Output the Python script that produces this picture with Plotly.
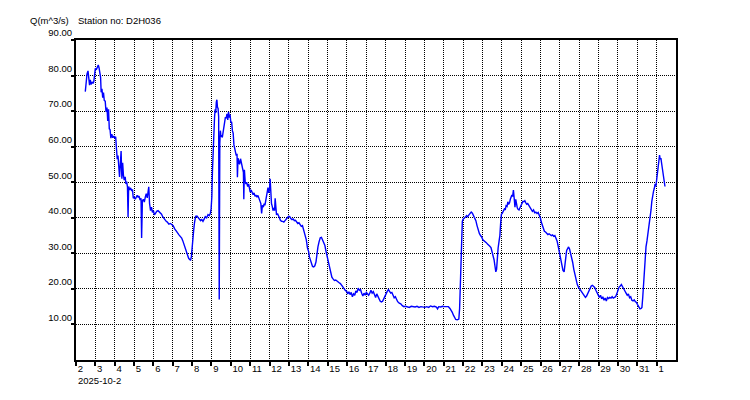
import pandas as pd
import plotly.graph_objects as go

# ---- data (days since 2025-10-02 00:00, discharge m^3/s) ----
start_date = "2025-10-02"
days = [
    0.48, 0.52, 0.57, 0.62, 0.66, 0.70, 0.74, 0.78, 0.83, 0.88, 0.92, 0.96, 1.00, 1.05, 1.10, 1.15, 1.19, 1.23, 1.27, 1.30,
    1.34, 1.38, 1.42, 1.46, 1.51, 1.55, 1.60, 1.64, 1.68, 1.72, 1.76, 1.80, 1.85, 1.90, 1.95, 2.00, 2.05, 2.09, 2.13, 2.17,
    2.21, 2.25, 2.29, 2.33, 2.37, 2.41, 2.45, 2.49, 2.54, 2.58, 2.62, 2.66, 2.69, 2.72, 2.77, 2.82, 2.87, 2.92, 2.96, 3.01,
    3.06, 3.11, 3.16, 3.21, 3.26, 3.31, 3.36, 3.39, 3.43, 3.48, 3.53, 3.58, 3.63, 3.68, 3.72, 3.76, 3.80, 3.85, 3.90, 3.95,
    4.00, 4.05, 4.10, 4.17, 4.24, 4.30, 4.36, 4.42, 4.48, 4.54, 4.60, 4.66, 4.72, 4.80, 4.88, 4.95, 5.02, 5.10, 5.17, 5.24,
    5.32, 5.40, 5.46, 5.52, 5.58, 5.64, 5.70, 5.76, 5.82, 5.88, 5.92, 5.96, 6.00, 6.04, 6.08, 6.12, 6.18, 6.25, 6.32, 6.38,
    6.44, 6.50, 6.56, 6.62, 6.68, 6.75, 6.82, 6.88, 6.94, 6.98, 7.02, 7.05, 7.08, 7.12, 7.16, 7.19, 7.22, 7.25, 7.28, 7.31,
    7.34, 7.37, 7.40, 7.43, 7.46, 7.49, 7.52, 7.56, 7.60, 7.64, 7.68, 7.72, 7.76, 7.80, 7.84, 7.88, 7.92, 7.96, 8.00, 8.04,
    8.08, 8.12, 8.16, 8.20, 8.24, 8.28, 8.32, 8.34, 8.37, 8.41, 8.45, 8.50, 8.55, 8.60, 8.65, 8.67, 8.70, 8.74, 8.78, 8.82,
    8.87, 8.92, 8.96, 9.00, 9.05, 9.10, 9.15, 9.20, 9.25, 9.30, 9.35, 9.40, 9.45, 9.50, 9.55, 9.59, 9.63, 9.68, 9.72, 9.76,
    9.80, 9.85, 9.88, 9.92, 9.96, 10.00, 10.03, 10.06, 10.10, 10.14, 10.18, 10.22, 10.26, 10.29, 10.32, 10.36, 10.41, 10.46, 10.51, 10.56,
    10.62, 10.68, 10.74, 10.80, 10.86, 10.92, 10.98, 11.04, 11.10, 11.16, 11.22, 11.28, 11.34, 11.40, 11.46, 11.52, 11.58, 11.64, 11.70, 11.76,
    11.80, 11.85, 11.90, 11.96, 12.02, 12.06, 12.10, 12.16, 12.22, 12.28, 12.34, 12.40, 12.45, 12.50, 12.56, 12.62, 12.68, 12.74, 12.80, 12.86,
    12.92, 12.98, 13.04, 13.10, 13.16, 13.22, 13.28, 13.35, 13.42, 13.50, 13.58, 13.66, 13.74, 13.80, 13.86, 13.92, 13.98, 14.04, 14.10, 14.16,
    14.22, 14.28, 14.34, 14.40, 14.46, 14.52, 14.58, 14.64, 14.70, 14.76, 14.82, 14.88, 14.94, 15.00, 15.06, 15.12, 15.18, 15.24, 15.30, 15.36,
    15.42, 15.48, 15.54, 15.60, 15.66, 15.72, 15.78, 15.84, 15.90, 15.96, 16.02, 16.08, 16.14, 16.20, 16.26, 16.32, 16.38, 16.44, 16.50, 16.56,
    16.62, 16.70, 16.78, 16.86, 16.94, 17.02, 17.12, 17.22, 17.32, 17.42, 17.52, 17.62, 17.72, 17.82, 17.92, 18.02, 18.12, 18.22, 18.32, 18.42,
    18.52, 18.62, 18.68, 18.74, 18.84, 18.94, 19.04, 19.14, 19.24, 19.32, 19.38, 19.44, 19.50, 19.56, 19.62, 19.70, 19.78, 19.82, 19.86, 19.89,
    19.92, 19.96, 20.00, 20.06, 20.12, 20.18, 20.24, 20.30, 20.36, 20.42, 20.48, 20.54, 20.60, 20.66, 20.72, 20.78, 20.84, 20.90, 20.96, 21.02,
    21.08, 21.14, 21.20, 21.26, 21.32, 21.38, 21.44, 21.50, 21.55, 21.60, 21.65, 21.69, 21.73, 21.77, 21.81, 21.86, 21.90, 21.94, 21.98, 22.03,
    22.08, 22.13, 22.18, 22.22, 22.27, 22.31, 22.35, 22.40, 22.44, 22.48, 22.52, 22.56, 22.60, 22.64, 22.68, 22.72, 22.76, 22.80, 22.84, 22.89,
    22.94, 22.99, 23.04, 23.09, 23.14, 23.19, 23.24, 23.29, 23.34, 23.40, 23.46, 23.52, 23.58, 23.64, 23.70, 23.76, 23.82, 23.88, 23.94, 24.00,
    24.04, 24.09, 24.14, 24.20, 24.26, 24.32, 24.38, 24.44, 24.50, 24.56, 24.62, 24.68, 24.74, 24.80, 24.86, 24.92, 24.98, 25.04, 25.10, 25.16,
    25.22, 25.27, 25.31, 25.35, 25.40, 25.45, 25.50, 25.55, 25.60, 25.66, 25.72, 25.78, 25.84, 25.90, 25.96, 26.02, 26.08, 26.14, 26.20, 26.26,
    26.32, 26.38, 26.44, 26.50, 26.56, 26.62, 26.68, 26.74, 26.80, 26.86, 26.92, 26.98, 27.04, 27.10, 27.16, 27.22, 27.28, 27.34, 27.40, 27.46,
    27.52, 27.58, 27.64, 27.70, 27.76, 27.82, 27.88, 27.94, 28.00, 28.06, 28.12, 28.18, 28.24, 28.30, 28.36, 28.42, 28.48, 28.54, 28.60, 28.66,
    28.72, 28.78, 28.84, 28.90, 28.96, 29.02, 29.08, 29.14, 29.20, 29.24, 29.28, 29.32, 29.36, 29.40, 29.45, 29.50, 29.54, 29.58, 29.62, 29.66,
    29.71, 29.75, 29.80, 29.84, 29.88, 29.92, 29.96, 30.00, 30.04, 30.08, 30.12, 30.15, 30.18, 30.22, 30.26, 30.30, 30.34, 30.38, 30.43,
]
flow = [
    75.5, 78.0, 80.5, 81.3, 79.0, 77.3, 78.8, 77.5, 78.2, 77.8, 78.3, 80.8, 82.0, 81.6, 82.6, 83.0, 82.2, 80.0, 79.5, 75.3,
    76.3, 73.8, 75.2, 73.0, 72.8, 69.8, 71.0, 67.2, 70.5, 65.0, 64.8, 62.4, 63.5, 62.5, 63.0, 62.4, 62.8, 59.5, 56.5, 57.5,
    53.0, 51.5, 55.0, 58.8, 51.0, 55.5, 52.0, 50.6, 51.5, 49.5, 50.2, 48.6, 40.2, 48.8, 47.8, 48.4, 47.7, 47.8, 45.5, 45.8,
    45.2, 45.6, 46.3, 45.8, 46.1, 45.0, 45.5, 34.3, 44.8, 45.2, 44.4, 45.8, 46.8, 45.6, 47.0, 48.7, 44.0, 42.0, 43.0, 41.5,
    42.0, 40.8, 41.2, 41.8, 42.0, 41.6, 41.5, 41.0, 40.3, 39.8, 39.4, 39.0, 38.8, 38.2, 38.4, 38.0, 37.8, 36.9, 36.5, 35.8,
    35.2, 34.7, 34.3, 33.5, 32.5, 32.0, 30.5, 29.5, 28.6, 28.2, 28.1, 29.0, 32.5, 34.5, 36.5, 38.5, 40.4, 40.5, 40.0, 39.3,
    39.2, 39.5, 39.0, 39.6, 40.3, 40.0, 40.9, 40.6, 41.2, 42.5, 46.0, 53.0, 59.0, 64.5, 68.5, 70.5, 69.5, 72.5, 73.2, 71.0,
    70.8, 68.5, 17.0, 61.0, 64.5, 62.8, 63.2, 62.6, 64.0, 64.7, 66.0, 68.3, 68.0, 69.2, 67.5, 69.8, 68.2, 69.0, 66.8, 67.0,
    64.5, 63.8, 60.5, 59.3, 58.8, 57.5, 58.0, 51.4, 56.8, 56.2, 55.0, 56.6, 55.4, 54.0, 52.8, 45.2, 53.5, 50.3, 49.5, 50.0,
    48.8, 49.5, 48.0, 47.2, 47.8, 46.8, 46.5, 47.0, 46.0, 46.4, 45.8, 46.3, 45.6, 44.5, 44.0, 41.2, 43.5, 43.0, 44.0, 43.5,
    44.8, 46.5, 47.0, 48.5, 47.0, 48.0, 51.0, 46.0, 44.0, 43.2, 42.0, 42.8, 42.0, 45.5, 41.8, 40.8, 41.2, 40.2, 40.0, 39.3,
    39.0, 39.0, 38.8, 39.2, 39.5, 40.0, 40.4, 40.3, 39.8, 39.5, 39.7, 39.2, 39.3, 38.8, 38.4, 38.6, 38.0, 37.6, 37.8, 36.5,
    35.5, 34.5, 33.8, 31.5, 30.5, 29.0, 28.2, 26.8, 26.3, 26.2, 26.5, 27.6, 30.0, 31.8, 33.3, 34.4, 34.5, 33.7, 33.0, 32.2,
    30.5, 29.0, 27.2, 25.8, 24.0, 23.3, 22.8, 22.4, 22.5, 22.0, 21.8, 21.5, 21.0, 20.6, 20.0, 19.5, 19.4, 18.6, 19.2, 18.4,
    19.0, 17.8, 18.6, 18.2, 19.4, 19.0, 20.2, 19.6, 19.8, 18.8, 18.0, 18.8, 18.2, 19.0, 18.6, 18.2, 18.8, 19.6, 18.8, 19.2,
    18.4, 17.6, 18.6, 17.8, 16.8, 16.5, 16.3, 16.5, 17.2, 18.0, 18.8, 19.3, 19.8, 19.2, 18.8, 19.0, 18.2, 17.5, 17.8, 16.9,
    16.4, 16.0, 15.8, 15.3, 15.0, 15.1, 15.0, 14.8, 15.1, 15.0, 14.9, 15.1, 14.8, 15.0, 14.9, 14.8, 15.0, 14.8, 15.2, 15.0,
    15.1, 14.9, 14.4, 15.0, 14.9, 15.1, 15.0, 14.9, 15.0, 14.5, 14.0, 13.4, 12.6, 12.0, 11.4, 11.3, 11.5, 14.5, 22.0, 30.0,
    35.0, 39.0, 39.6, 39.8, 40.2, 40.6, 40.3, 40.8, 41.2, 41.6, 41.3, 40.5, 39.8, 39.2, 37.8, 36.5, 35.6, 35.0, 34.6, 33.8,
    33.6, 33.2, 33.0, 32.6, 32.4, 32.0, 31.6, 30.5, 29.2, 28.2, 26.3, 24.8, 25.5, 29.0, 31.5, 33.5, 35.0, 38.5, 41.0, 41.3,
    41.8, 42.5, 42.2, 43.4, 43.2, 44.5, 43.8, 44.2, 45.2, 45.8, 46.4, 46.0, 47.8, 45.5, 43.0, 45.2, 43.8, 42.8, 42.4, 42.2,
    42.8, 43.6, 44.4, 44.6, 44.5, 44.8, 44.2, 43.8, 44.0, 43.4, 42.6, 42.0, 41.8, 42.2, 41.4, 41.6, 41.2, 41.5, 40.8, 39.8,
    38.8, 37.8, 37.0, 36.2, 36.0, 35.6, 35.3, 35.5, 35.2, 35.0, 35.2, 34.8, 35.0, 34.2, 33.4, 31.8, 30.0, 28.5, 26.5, 25.2,
    24.8, 26.5, 29.0, 30.8, 31.6, 31.8, 31.2, 30.2, 28.8, 27.5, 25.5, 23.8, 22.5, 21.2, 20.5, 20.0, 19.4, 19.0, 18.4, 18.2,
    17.6, 18.0, 18.8, 19.4, 20.2, 20.8, 21.0, 20.6, 20.4, 19.6, 19.0, 18.4, 17.6, 18.2, 17.2, 17.8, 16.8, 17.4, 16.6, 17.6,
    17.3, 17.6, 17.4, 17.8, 17.4, 17.6, 17.8, 18.6, 19.8, 20.5, 20.8, 21.2, 20.6, 19.8, 19.4, 18.8, 18.2, 18.6, 17.5, 17.8,
    16.8, 16.6, 16.9, 16.4, 16.2, 15.5, 14.8, 14.4, 14.5, 14.8, 17.5, 21.5, 25.5, 28.5, 31.8, 33.5, 35.0, 37.2, 39.3, 40.8,
    42.2, 44.6, 46.8, 47.5, 48.3, 49.5, 48.8, 50.5, 52.8, 54.5, 56.0, 57.6, 56.5, 56.8, 55.2, 53.4, 51.5, 50.6, 48.8,
]
day_labels = ["2", "3", "4", "5", "6", "7", "8", "9", "10", "11", "12", "13", "14", "15", "16", "17",
              "18", "19", "20", "21", "22", "23", "24", "25", "26", "27", "28", "29", "30", "31", "1"]
y_ticks = [10, 20, 30, 40, 50, 60, 70, 80, 90]
y_labels = ["10.00", "20.00", "30.00", "40.00", "50.00", "60.00", "70.00", "80.00", "90.00"]
station = "Station no: D2H036"
y_title = "Q(m^3/s)"
date_label = "2025-10-2"

t0 = pd.Timestamp(start_date)
times = t0 + pd.to_timedelta(days, unit="D")
tick_dates = [t0 + pd.Timedelta(days=i) for i in range(len(day_labels))]
x_end = t0 + pd.Timedelta(days=len(day_labels))

FONT = "Liberation Sans, Arial, sans-serif"
FS = 9.5

fig = go.Figure(
    go.Scatter(x=times, y=flow, mode="lines",
               line=dict(color="#0000FF", width=1.4), hoverinfo="skip")
)

# page body has an 8px offset, so margins are reduced by 8px to land the plot box at (76,40)-(676,360)
fig.update_layout(
    width=750, height=400,
    margin=dict(l=68, r=82, t=32, b=48, autoexpand=False),
    paper_bgcolor="white", plot_bgcolor="white",
    showlegend=False,
    font=dict(family=FONT, size=FS, color="black"),
)

fig.update_xaxes(
    type="date", range=[t0, x_end], automargin=False,
    tickmode="array", tickvals=tick_dates, ticktext=day_labels,
    tickangle=0,
    ticks="outside", ticklen=4, tickwidth=1.5, tickcolor="black",
    ticklabelposition="outside right", ticklabelstandoff=-1,
    showline=True, linecolor="black", linewidth=2, mirror=True,
    showgrid=True, gridcolor="black", gridwidth=1, griddash="1px,1px",
    zeroline=False, tickfont=dict(family=FONT, size=FS, color="black"),
)
fig.update_yaxes(
    range=[0, 90], automargin=False,
    tickmode="array", tickvals=y_ticks, ticktext=y_labels,
    ticks="outside", ticklen=3, tickwidth=1.5, tickcolor="black",
    ticklabelshift=-7, ticklabelstandoff=-3,
    showline=True, linecolor="black", linewidth=2, mirror=True,
    showgrid=True, gridcolor="black", gridwidth=1, griddash="1px,1px",
    zeroline=False, tickfont=dict(family=FONT, size=FS, color="black"),
)

fig.add_annotation(text=y_title, xref="paper", yref="paper", x=0, y=1,
                   xanchor="right", yanchor="middle", xshift=-5, yshift=20,
                   showarrow=False, font=dict(family=FONT, size=FS, color="black"))
fig.add_annotation(text=station, xref="paper", yref="paper", x=0, y=1,
                   xanchor="left", yanchor="middle", xshift=0, yshift=20,
                   showarrow=False, font=dict(family=FONT, size=FS, color="black"))
fig.add_annotation(text=date_label, xref="paper", yref="paper", x=0, y=0,
                   xanchor="left", yanchor="middle", xshift=0, yshift=-20,
                   showarrow=False, font=dict(family=FONT, size=FS, color="black"))

fig.write_html("out.html")
